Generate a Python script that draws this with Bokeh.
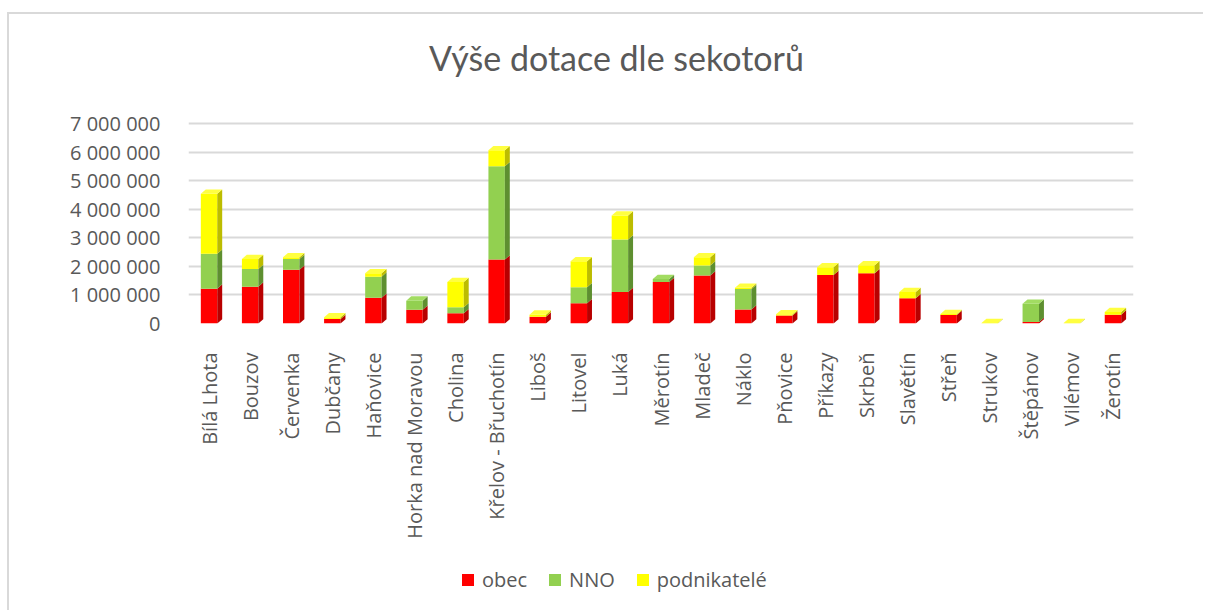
import math
from bokeh.plotting import figure
from bokeh.layouts import column
from bokeh.models import (Range1d, FixedTicker, Legend, LegendItem, ColumnDataSource, Label)
from bokeh.embed import file_html
from bokeh.resources import INLINE

categories = ["Bílá Lhota", "Bouzov", "Červenka", "Dubčany", "Haňovice",
              "Horka nad Moravou", "Cholina", "Křelov - Břuchotín", "Liboš",
              "Litovel", "Luká", "Měrotín", "Mladeč", "Náklo", "Pňovice",
              "Příkazy", "Skrbeň", "Slavětín", "Střeň", "Strukov", "Štěpánov",
              "Vilémov", "Žerotín"]

obec = [1220000, 1290000, 1880000, 160000, 900000, 480000, 360000, 2240000,
        240000, 710000, 1100000, 1450000, 1680000, 490000, 280000, 1700000,
        1760000, 880000, 300000, 0, 50000, 0, 310000]
nno = [1220000, 620000, 380000, 0, 740000, 320000, 210000, 3260000,
       0, 560000, 1840000, 110000, 350000, 720000, 0, 0,
       0, 0, 0, 0, 640000, 0, 0]
podnikatele = [2100000, 350000, 60000, 60000, 120000, 0, 880000, 560000,
               70000, 910000, 840000, 0, 290000, 40000, 40000, 270000,
               280000, 220000, 30000, 20000, 0, 20000, 90000]

y_ticks = [0, 1000000, 2000000, 3000000, 4000000, 5000000, 6000000, 7000000]
y_tick_labels = ["0", "1 000 000", "2 000 000", "3 000 000", "4 000 000",
                 "5 000 000", "6 000 000", "7 000 000"]

series = [("obec", obec, "#ff0000", "#b80000", "#ff2a2a"),
          ("NNO", nno, "#92d050", "#5e8f30", "#a2dc62"),
          ("podnikatelé", podnikatele, "#ffff00", "#bcbc00", "#ffff40")]

W = 0.4          # bar front width (category units)
DX = 0.12        # 3D depth offset in x (category units)
DY = 150000      # 3D depth offset in y (data units)

n = len(categories)
xs_idx = list(range(n))

GRID = "#d9d9d9"
TXT = "#595959"

# frame extends above the 7 000 000 line so the title can sit inside it
p = figure(width=1196, height=546, output_backend="svg", toolbar_location=None,
           x_range=Range1d(-0.5, n - 0.5), y_range=Range1d(0, 10605000),
           min_border_left=179, min_border_right=72, min_border_top=6,
           min_border_bottom=237)
p.styles = {"margin-left": "7px", "margin-top": "12px",
            "border-left": "2px solid " + GRID, "border-top": "2px solid " + GRID}
p.outline_line_color = None
p.background_fill_color = "white"

p.xaxis.ticker = FixedTicker(ticks=xs_idx)
p.xaxis.major_label_overrides = {i: c for i, c in enumerate(categories)}
p.xaxis.major_label_orientation = math.pi / 2
p.xaxis.major_label_text_font = "Open Sans"
p.xaxis.major_label_text_font_size = "20px"
p.xaxis.major_label_text_color = TXT
p.xaxis.major_label_standoff = 23
p.xaxis.axis_line_color = None
p.xaxis.major_tick_line_color = None
p.xaxis.minor_tick_line_color = None

p.yaxis.ticker = FixedTicker(ticks=y_ticks)
p.yaxis.major_label_overrides = {t: l for t, l in zip(y_ticks, y_tick_labels)}
p.yaxis.major_label_text_font = "Open Sans"
p.yaxis.major_label_text_font_size = "20px"
p.yaxis.major_label_text_color = TXT
p.yaxis.major_label_standoff = 22
p.yaxis.axis_line_color = None
p.yaxis.major_tick_line_color = None
p.yaxis.minor_tick_line_color = None

p.xgrid.grid_line_color = None
p.ygrid.ticker = FixedTicker(ticks=y_ticks)
p.ygrid.grid_line_color = GRID
p.ygrid.grid_line_width = 2

bottoms = [0] * n
totals = [o + g + y for o, g, y in zip(obec, nno, podnikatele)]
for name, vals, front, side, top_c in series:
    b = list(bottoms)
    t = [bb + v for bb, v in zip(b, vals)]
    src = ColumnDataSource(dict(x=xs_idx, bottom=b, top=t))
    p.vbar(x="x", bottom="bottom", top="top", width=W, source=src,
           fill_color=front, line_color=None)
    sxs, sys_ = [], []
    txs, tys = [], []
    for i in range(n):
        if vals[i] <= 0:
            continue
        xr = i + W / 2
        sxs.append([xr, xr + DX, xr + DX, xr])
        sys_.append([b[i], b[i] + DY, t[i] + DY, t[i]])
        if abs(t[i] - totals[i]) < 1:
            xl = i - W / 2
            txs.append([xl, xl + DX, xr + DX, xr])
            tys.append([t[i], t[i] + DY, t[i] + DY, t[i]])
    p.patches(sxs, sys_, fill_color=side, line_color=None)
    if txs:
        p.patches(txs, tys, fill_color=top_c, line_color=None)
    bottoms = t

title = Label(x=428, y=266, x_units="screen", y_units="screen",
              text="Výše dotace dle sekotorů", text_align="center",
              text_baseline="middle", text_font="Lato",
              text_font_size="34px", text_color=TXT)
p.add_layout(title)

# legend strip below the chart (zero-size proxy glyphs carry the legend swatches)
p2 = figure(width=1196, height=52, output_backend="svg", toolbar_location=None,
            x_range=Range1d(0, 1), y_range=Range1d(0, 1),
            x_axis_type=None, y_axis_type=None, min_border=0)
p2.styles = {"margin-left": "7px", "border-left": "2px solid " + GRID}
p2.outline_line_color = None
p2.grid.visible = False
items = []
for name, vals, front, side, top_c in series:
    r = p2.vbar(x=[0], bottom=[0], top=[0], width=0, fill_color=front,
                line_color=None)
    items.append(LegendItem(label=name, renderers=[r]))
legend = Legend(items=items, orientation="horizontal",
                location=(272, 17), glyph_width=15, glyph_height=15,
                label_text_font="Open Sans", label_text_font_size="20px",
                label_text_color=TXT, spacing=20, label_standoff=7,
                border_line_color=None, background_fill_alpha=0, padding=0,
                margin=0)
p2.add_layout(legend, "center")

layout = column(p, p2, spacing=0)
open("out.html", "w").write(file_html(layout, INLINE))
